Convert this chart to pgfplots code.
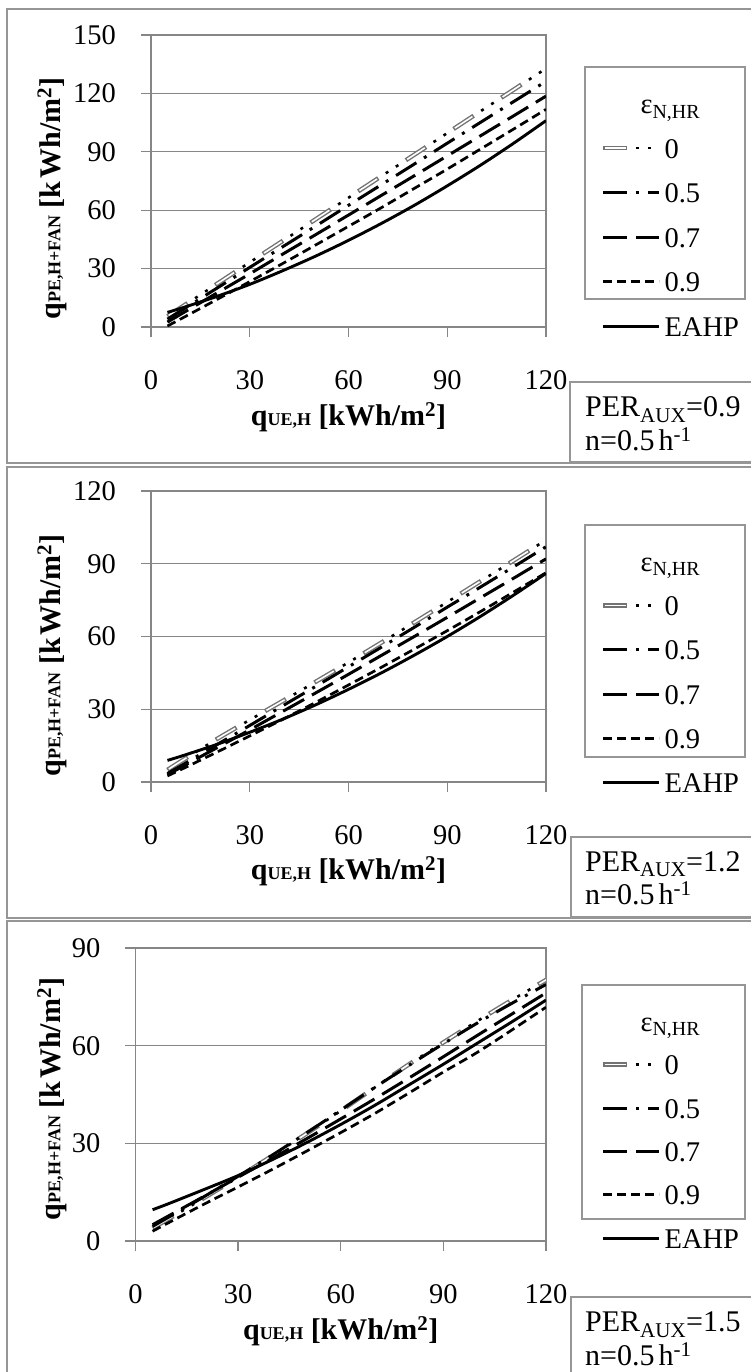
\documentclass[border=0pt]{standalone}
\usepackage{fontspec}
\setmainfont{Liberation Serif}
\usepackage{pgfplots}
\pgfplotsset{compat=1.18}
\usepackage{pgfplotstable}
\definecolor{gridgray}{RGB}{134,134,134}
\definecolor{framegray}{RGB}{150,150,150}
\definecolor{hollowgray}{RGB}{115,115,115}
\newcommand{\tickf}{\fontsize{28.5}{30}\selectfont}
\newcommand{\labf}{\fontsize{30}{32}\selectfont}
\newcommand{\subf}{\fontsize{18}{20}\selectfont}

\pgfplotstableread{
x    e0     e5     e7     e9     ea
5    5.5    4.0    2.5    0.5    7.5
10   11.0   9.3    7.5    5.0    10.1
20   22.1   19.9   17.4   14.1   15.7
30   33.2   30.6   27.3   23.3   21.9
40   44.2   41.2   37.4   32.6   28.9
50   55.3   51.8   47.4   42.1   36.4
60   66.4   62.5   57.5   51.7   44.5
70   77.5   73.1   67.6   61.3   53.2
80   88.5   83.7   77.7   71.2   62.5
90   99.6   94.4   87.9   81.1   72.5
100  110.7  105.0  98.1   91.3   83.0
110  121.7  115.6  108.3  101.5  94.2
120  132.8  126.2  118.6  111.8  106.0
}\tabA
\pgfplotstableread{
x    e0     e5     e7     e9     ea
5    5.0    3.5    3.0    2.5    8.9
10   9.3    7.4    6.7    5.7    11.0
20   17.7   15.4   14.1   12.3   15.5
30   25.6   23.3   21.5   19.0   20.5
40   33.4   31.4   29.1   25.8   25.9
50   41.3   39.4   36.7   32.8   31.8
60   49.3   47.5   44.4   40.0   38.2
70   57.5   55.6   52.2   47.3   45.0
80   65.8   63.8   60.0   54.8   52.3
90   74.2   72.1   67.9   62.4   60.0
100  82.7   80.3   75.9   70.2   68.2
110  91.2   88.6   83.9   78.2   76.9
120  99.8   97.0   92.0   86.3   86.0
}\tabB
\pgfplotstableread{
x    e0     e5     e7     e9     ea
5    4.0    4.5    5.0    3.0    9.6
10   7.0    7.5    7.9    5.8    11.6
20   13.2   13.6   13.7   11.3   15.8
30   19.6   19.9   19.6   16.6   20.1
40   26.2   26.4   25.4   22.0   25.0
50   33.0   33.2   31.4   27.6   30.2
60   40.0   40.2   37.5   33.3   35.8
70   47.2   47.2   43.7   39.2   41.7
80   54.3   54.0   50.1   45.5   48.0
90   61.0   60.6   56.6   51.9   54.3
100  67.6   67.0   63.2   58.0   60.8
110  74.0   73.0   69.7   64.8   67.3
120  80.2   78.8   76.2   71.8   74.0
}\tabC

\tikzset{
 sE0/.style={draw=hollowgray, line width=4.4pt, dash pattern=on 24pt off 33pt,
   postaction={draw=white, line width=1.6pt, dash pattern=on 21pt off 36pt, dash phase=55.5pt},
   postaction={draw=black, line width=2.6pt, dash pattern=on 3pt off 9pt on 3pt off 42pt, dash phase=24pt}},
 sE5/.style={draw=black, line width=3pt, dash pattern=on 24pt off 9pt on 3pt off 9pt},
 sE7/.style={draw=black, line width=3pt, dash pattern=on 24pt off 9pt},
 sE9/.style={draw=black, line width=2.7pt, dash pattern=on 9pt off 5pt},
 sEA/.style={draw=black, line width=2.9pt},
}

\pgfplotsset{
 panel/.style={
   scale only axis, xmin=0, xmax=120, ymin=0,
   xtick={0,30,60,90,120},
   axis line style={draw=gridgray, line width=1.3pt},
   tick style={draw=gridgray, line width=1.3pt},
   ymajorgrids, major grid style={draw=gridgray, line width=1.3pt},
   tick align=outside, major tick length=10pt,
   xtick pos=left, ytick pos=left,
   ticklabel style={font=\tickf},
   /pgf/number format/assume math mode=true,
   xticklabel style={anchor=center, inner sep=0pt, yshift=-43pt},
   yticklabel style={anchor=east, inner sep=0pt, xshift=-25pt},
   xlabel style={font=\labf, at={(axis description cs:0.5,-0.308)}, anchor=center},
   ylabel style={font=\labf, anchor=center},
   xlabel={\textbf{q{\subf UE,H} [kWh/m\textsuperscript{2}]}},
   ylabel={\textbf{q{\subf PE,H+FAN} [k\kern3pt Wh/m\textsuperscript{2}]}},
   legend cell align=left,
   legend image code/.code={\draw[##1] (0pt,0pt) -- (56pt,0pt);},
   legend style={draw=none, fill=none, inner sep=0pt, anchor=north west, font=\tickf,
     column sep=3pt, nodes={inner sep=0pt, text height=20pt, text depth=0pt}},
 }
}

\begin{document}
\begin{tikzpicture}
\useasboundingbox (0pt,0pt) rectangle (751pt,1372pt);
\fill[white] (0pt,0pt) rectangle (751pt,1372pt);

% ---------- panel 1
\begin{axis}[panel, at={(151pt,1045pt)}, anchor=south west, width=395pt, height=292pt,
  ymax=150, ytick={0,30,60,90,120,150},
  ylabel style={at={(axis description cs:-0.2506,0.44)}},
  legend style={at={(axis description cs:1.13924,0.79966)}, row sep=24.5pt}]
\addlegendimage{empty legend}\addlegendentry{\hspace*{-24pt}ε\textsubscript{N,HR}}
\addplot[sE0, smooth] table[x=x,y=e0]{\tabA}; \addlegendentry{0}
\addplot[sE5, smooth] table[x=x,y=e5]{\tabA}; \addlegendentry{0.5}
\addplot[sE7, smooth] table[x=x,y=e7]{\tabA}; \addlegendentry{0.7}
\addplot[sE9, smooth] table[x=x,y=e9]{\tabA}; \addlegendentry{0.9}
\addplot[sEA, smooth] table[x=x,y=ea]{\tabA}; \addlegendentry{EAHP}
\end{axis}

% ---------- panel 2
\begin{axis}[panel, at={(151pt,590pt)}, anchor=south west, width=395pt, height=291pt,
  ymax=120, ytick={0,30,60,90,120},
  ylabel style={at={(axis description cs:-0.2506,0.435)}},
  legend style={at={(axis description cs:1.13924,0.79381)}, row sep=24.3pt}]
\addlegendimage{empty legend}\addlegendentry{\hspace*{-24pt}ε\textsubscript{N,HR}}
\addplot[sE0, smooth] table[x=x,y=e0]{\tabB}; \addlegendentry{0}
\addplot[sE5, smooth] table[x=x,y=e5]{\tabB}; \addlegendentry{0.5}
\addplot[sE7, smooth] table[x=x,y=e7]{\tabB}; \addlegendentry{0.7}
\addplot[sE9, smooth] table[x=x,y=e9]{\tabB}; \addlegendentry{0.9}
\addplot[sEA, smooth] table[x=x,y=ea]{\tabB}; \addlegendentry{EAHP}
\end{axis}

% ---------- panel 3
\begin{axis}[panel, at={(135.5pt,131pt)}, anchor=south west, width=410.5pt, height=293pt,
  ymax=90, ytick={0,30,60,90},
  ylabel style={at={(axis description cs:-0.2034,0.485)}},
  legend style={at={(axis description cs:1.13398,0.78498)}, row sep=23.4pt}]
\addlegendimage{empty legend}\addlegendentry{\hspace*{-24pt}ε\textsubscript{N,HR}}
\addplot[sE0, smooth] table[x=x,y=e0]{\tabC}; \addlegendentry{0}
\addplot[sE5, smooth] table[x=x,y=e5]{\tabC}; \addlegendentry{0.5}
\addplot[sE7, smooth] table[x=x,y=e7]{\tabC}; \addlegendentry{0.7}
\addplot[sE9, smooth] table[x=x,y=e9]{\tabC}; \addlegendentry{0.9}
\addplot[sEA, smooth] table[x=x,y=ea]{\tabC}; \addlegendentry{EAHP}
\end{axis}

% ---------- frames and boxes
\begin{scope}[framegray, line width=1.3pt]
\draw (7pt,909pt) rectangle (754pt,1363pt);
\draw (7pt,454pt) rectangle (754pt,905pt);
\draw (7pt,-4pt) rectangle (754pt,451pt);
\draw (585pt,1073pt) rectangle (745pt,1305pt);
\draw (585pt,615pt) rectangle (745pt,847pt);
\draw (582pt,153pt) rectangle (745pt,387pt);
\draw (570pt,910pt) rectangle (754pt,990pt);
\draw (571pt,455pt) rectangle (754pt,535pt);
\draw (571pt,-4pt) rectangle (754pt,75pt);
\end{scope}
\begin{scope}[every node/.style={anchor=base west, inner sep=0pt, font=\labf}]
\node at (585pt,955pt) {PER\textsubscript{AUX}=0.9};
\node at (585pt,921pt) {n=0.5\kern4pt h\textsuperscript{-1}};
\node at (585pt,500.3pt) {PER\textsubscript{AUX}=1.2};
\node at (585pt,467pt) {n=0.5\kern4pt h\textsuperscript{-1}};
\node at (585pt,40pt) {PER\textsubscript{AUX}=1.5};
\node at (585pt,6pt) {n=0.5\kern4pt h\textsuperscript{-1}};
\end{scope}
\end{tikzpicture}
\end{document}
